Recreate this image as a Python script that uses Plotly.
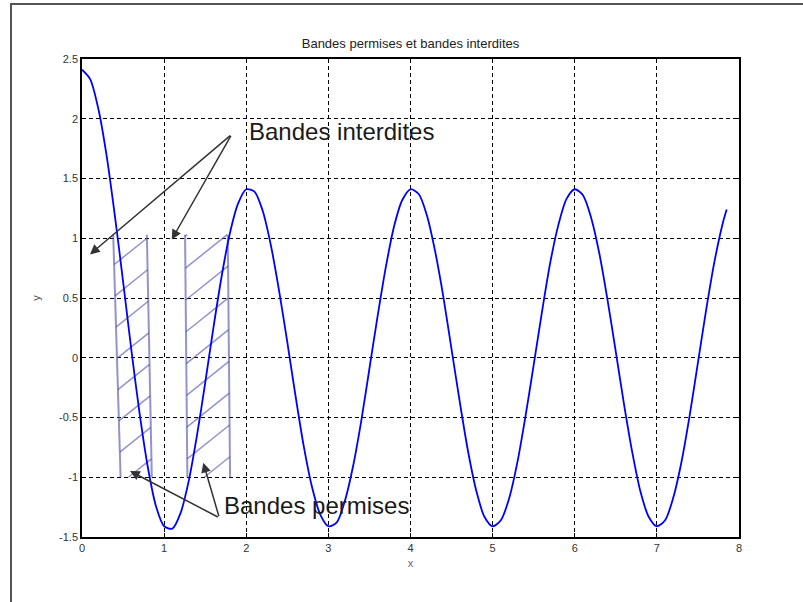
import plotly.graph_objects as go

# Sampled curve: x positions and the dispersion function value y
X = [round(0.1 * i, 1) for i in range(79)] + [7.85]
Y = [2.41, 2.33, 2.08, 1.69, 1.19, 0.64, 0.07, -0.46, -0.91, -1.24,
     -1.41, -1.43, -1.30, -1.03, -0.65, -0.21, 0.25, 0.68, 1.04, 1.29,
     1.41, 1.39, 1.23, 0.94, 0.56, 0.13, -0.32, -0.74, -1.08, -1.31,
     -1.41, -1.38, -1.20, -0.91, -0.53, -0.09, 0.35, 0.76, 1.10, 1.32,
     1.41, 1.37, 1.19, 0.89, 0.51, 0.07, -0.37, -0.78, -1.11, -1.33,
     -1.41, -1.36, -1.18, -0.88, -0.49, -0.06, 0.38, 0.79, 1.11, 1.33,
     1.41, 1.36, 1.17, 0.87, 0.48, 0.05, -0.39, -0.79, -1.12, -1.33,
     -1.41, -1.36, -1.17, -0.87, -0.48, -0.04, 0.40, 0.80, 1.12, 1.24]

# Allowed bands (hatched quadrilaterals): x limits at the top and at the bottom
BAND_TOP_Y = 1.03
BAND_BOTTOM_Y = -1.0
BAND_TOP_LEFT = [0.38, 1.255]
BAND_TOP_RIGHT = [0.79, 1.775]
BAND_BOTTOM_LEFT = [0.47, 1.283]
BAND_BOTTOM_RIGHT = [0.85, 1.803]
HATCH_OFFSET = [0.565, 0.057]

X_TICKS = [0, 1, 2, 3, 4, 5, 6, 7, 8]
Y_TICKS = [-1.5, -1, -0.5, 0, 0.5, 1, 1.5, 2, 2.5]
Y_TICK_LABELS = ["-1.5", "-1", "-0.5", "0", "0.5", "1", "1.5", "2", "2.5"]

HATCH_SLOPE = 0.55
HATCH_STEP = 0.268
BAND_COLOR = "rgba(80,80,175,0.62)"

FONT = "Arial, Liberation Sans, sans-serif"


def clip_line(poly, s, c):
    """Intersect the line y = s*x + c with a convex polygon."""
    pts = []
    n = len(poly)
    for i in range(n):
        (x0, y0), (x1, y1) = poly[i], poly[(i + 1) % n]
        f0 = y0 - s * x0 - c
        f1 = y1 - s * x1 - c
        if f0 == f1:
            continue
        if f0 * f1 <= 0:
            t = f0 / (f0 - f1)
            pts.append((x0 + t * (x1 - x0), y0 + t * (y1 - y0)))
    if len(pts) < 2:
        return None
    pts.sort()
    a, b = pts[0], pts[-1]
    if abs(a[0] - b[0]) < 1e-6 and abs(a[1] - b[1]) < 1e-6:
        return None
    return a, b


fig = go.Figure()

for i in range(len(BAND_TOP_LEFT)):
    poly = [(BAND_TOP_LEFT[i], BAND_TOP_Y), (BAND_TOP_RIGHT[i], BAND_TOP_Y),
            (BAND_BOTTOM_RIGHT[i], BAND_BOTTOM_Y), (BAND_BOTTOM_LEFT[i], BAND_BOTTOM_Y)]
    # vertical-ish edges
    ex = [BAND_TOP_LEFT[i], BAND_BOTTOM_LEFT[i], None, BAND_TOP_RIGHT[i], BAND_BOTTOM_RIGHT[i]]
    ey = [BAND_TOP_Y, BAND_BOTTOM_Y, None, BAND_TOP_Y, BAND_BOTTOM_Y]
    fig.add_trace(go.Scatter(x=ex, y=ey, mode="lines", hoverinfo="skip",
                             line=dict(color=BAND_COLOR, width=2), showlegend=False))
    # diagonal hatching
    hx, hy = [], []
    for k in range(-12, 13):
        seg = clip_line(poly, HATCH_SLOPE, HATCH_OFFSET[i] + k * HATCH_STEP)
        if seg:
            (ax, ay), (bx, by) = seg
            hx += [ax, bx, None]
            hy += [ay, by, None]
    fig.add_trace(go.Scatter(x=hx, y=hy, mode="lines", hoverinfo="skip",
                             line=dict(color=BAND_COLOR, width=1.5), showlegend=False))

fig.add_trace(go.Scatter(x=X, y=Y, mode="lines",
                         line=dict(color="#0000ff", width=1.8, shape="spline", smoothing=0.8),
                         showlegend=False))

arrow = dict(showarrow=True, arrowhead=2, arrowsize=1.3, arrowwidth=1.5,
             arrowcolor="#333333", xref="x", yref="y", axref="x", ayref="y", text="")
annotations = [
    dict(x=0.097, y=0.865, ax=1.823, ay=1.870, **arrow),
    dict(x=1.093, y=0.990, ax=1.823, ay=1.870, **arrow),
    dict(x=0.585, y=-0.948, ax=1.672, ay=-1.339, **arrow),
    dict(x=1.477, y=-0.879, ax=1.672, ay=-1.339, **arrow),
    dict(x=2.01, y=1.897, xref="x", yref="y", xanchor="left", yanchor="middle",
         text="Bandes interdites", showarrow=False,
         font=dict(family=FONT, size=24, color="#1a1a1a")),
    dict(x=1.705, y=-1.233, xref="x", yref="y", xanchor="left", yanchor="middle",
         text="Bandes permises", showarrow=False,
         font=dict(family=FONT, size=24, color="#1a1a1a")),
]

axis_common = dict(showline=True, linecolor="black", linewidth=1.5, mirror="ticks",
                   ticks="inside", ticklen=4, tickcolor="black",
                   showgrid=True, gridcolor="black", gridwidth=1.4, griddash="4px,3px",
                   zeroline=False, tickfont=dict(family=FONT, size=11, color="#333333"))

fig.update_layout(
    width=803, height=602,
    margin=dict(l=82, r=64, t=59, b=65),
    paper_bgcolor="white", plot_bgcolor="white",
    title=dict(text="Bandes permises et bandes interdites", x=0.5, xref="paper",
               y=1 - 43 / 602, yanchor="middle",
               font=dict(family=FONT, size=13, color="#222222")),
    xaxis=dict(range=[0, 8], tickvals=X_TICKS, ticktext=[str(v) for v in X_TICKS],
               title=dict(text="x", standoff=6, font=dict(family=FONT, size=11, color="#666677")),
               **axis_common),
    yaxis=dict(range=[-1.5, 2.5], tickvals=Y_TICKS, ticktext=Y_TICK_LABELS,
               title=dict(text="y", standoff=16, font=dict(family=FONT, size=11, color="#444455")),
               **axis_common),
    annotations=annotations,
    shapes=[dict(type="rect", xref="paper", yref="paper",
                 x0=(11 - 82) / 657, x1=(815 - 82) / 657,
                 y0=(537 - 615) / 478, y1=(537 - 4) / 478,
                 line=dict(color="#555555", width=2), layer="below")],
)

fig.write_html("out.html")
